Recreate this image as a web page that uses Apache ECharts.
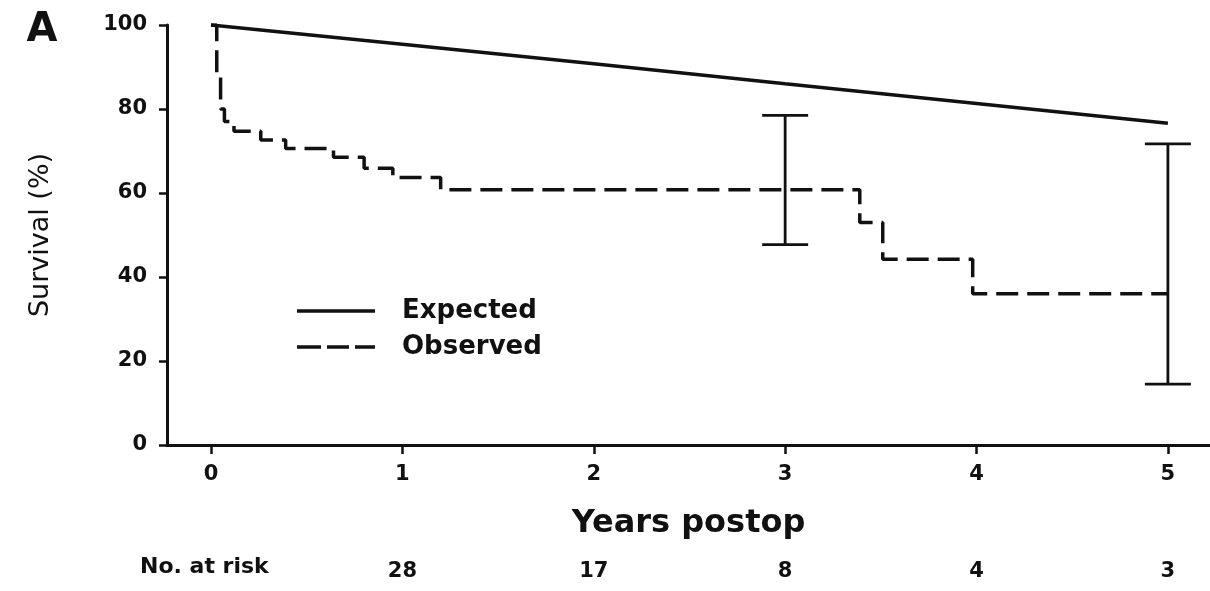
<!DOCTYPE html>
<html>
<head>
<meta charset="utf-8">
<script src="https://cdn.jsdelivr.net/npm/echarts@6/dist/echarts.min.js"></script>
<style>
html,body{margin:0;padding:0;background:#fff;}
#chart{width:1210px;height:591px;}
</style>
</head>
<body>
<div id="chart"></div>
<script>
// ---- data ----
const xTicks = [0, 1, 2, 3, 4, 5];
const yearsAtRisk = [1, 2, 3, 4, 5];
const atRisk = [28, 17, 8, 4, 3];

const expTime = [0, 1, 2, 3, 4, 5];
const expSurv = [100, 95.4, 90.8, 86.0, 81.3, 76.6];

const obsTime = [0, 0.03, 0.05, 0.07, 0.12, 0.26, 0.39, 0.64, 0.80, 0.95, 1.20, 3.39, 3.51, 3.98, 5.00];
const obsSurv = [100, 88, 80, 77, 74.7, 72.6, 70.6, 68.5, 65.9, 63.7, 60.8, 53.0, 44.2, 36.0, 36.0];

const ciTime = [3, 5];
const ciLow = [47.7, 14.5];
const ciHigh = [78.5, 71.7];

// ---- build options ----
const FONT = 'DejaVu Sans';
const INK = '#111';
const zip = (a, b) => a.map((v, i) => [v, b[i]]);
const ciData = ciTime.map((t, i) => [t, ciLow[i], ciHigh[i]]);
const riskMap = {};
yearsAtRisk.forEach((y, i) => { riskMap[y] = atRisk[i]; });

const SOLID_ICON = 'path://M0,0h78v3.5h-78z';
const DASH_ICON = 'path://M0,0h24v3.5h-24zM30,0h22v3.5h-22zM58,0h20v3.5h-20z';

const chart = echarts.init(document.getElementById('chart'));
chart.setOption({
  backgroundColor: '#fff',
  animation: false,
  grid: { left: 167, right: 0, top: 25, bottom: 146, containLabel: false },
  xAxis: [{
    type: 'value', min: -0.23, max: 5.22,
    axisLine: { show: true, onZero: false, lineStyle: { color: INK, width: 3 } },
    axisTick: { show: true, customValues: xTicks, length: 9, lineStyle: { color: INK, width: 2.5 } },
    axisLabel: { customValues: xTicks, margin: 19, color: INK, fontFamily: FONT, fontWeight: 'bold', fontSize: 21 },
    splitLine: { show: false },
    name: 'Years postop', nameLocation: 'middle', nameGap: 63,
    nameTextStyle: { color: INK, fontFamily: FONT, fontWeight: 'bold', fontSize: 32 }
  }, {
    type: 'value', min: -0.23, max: 5.22, position: 'bottom', offset: 108,
    axisLine: { show: false }, axisTick: { show: false }, splitLine: { show: false },
    axisLabel: {
      customValues: yearsAtRisk, margin: 8, color: INK, fontFamily: FONT, fontWeight: 'bold', fontSize: 21,
      formatter: v => String(riskMap[v])
    }
  }],
  yAxis: {
    type: 'value', min: 0, max: 100, interval: 20,
    axisLine: { show: true, onZero: false, lineStyle: { color: INK, width: 3 } },
    axisTick: { show: true, length: 8, lineStyle: { color: INK, width: 2.5 } },
    axisLabel: { margin: 20, color: INK, fontFamily: FONT, fontWeight: 'bold', fontSize: 21 },
    splitLine: { show: false },
    name: 'Survival (%)', nameLocation: 'middle', nameGap: 113, nameRotate: 90,
    nameTextStyle: { color: INK, fontFamily: FONT, fontSize: 27 }
  },
  legend: {
    orient: 'vertical', left: 292, top: 293, itemWidth: 78, itemHeight: 3.5, itemGap: 10,
    data: [{ name: 'Expected', icon: SOLID_ICON }, { name: 'Observed', icon: DASH_ICON }],
    itemStyle: { color: INK, borderWidth: 0 },
    textStyle: { color: INK, fontFamily: FONT, fontWeight: 'bold', fontSize: 26, lineHeight: 26, padding: [0, 0, 0, 22] }
  },
  graphic: [
    { type: 'text', x: 42, y: 31, style: { text: 'A', fill: INK, font: 'bold 40px "DejaVu Sans"', textAlign: 'center', textVerticalAlign: 'middle' } },
    { type: 'text', x: 140, y: 567, style: { text: 'No. at risk', fill: INK, font: 'bold 22px "DejaVu Sans"', textAlign: 'left', textVerticalAlign: 'middle' } }
  ],
  series: [{
    name: 'Observed', type: 'line', step: 'end', data: zip(obsTime, obsSurv), symbol: 'none',
    lineStyle: { color: INK, width: 3.5, type: [22, 9] }, itemStyle: { color: INK }, z: 3
  }, {
    name: 'Expected', type: 'line', data: zip(expTime, expSurv), symbol: 'none',
    lineStyle: { color: INK, width: 3.5 }, itemStyle: { color: INK }, z: 3
  }, {
    name: 'CI', type: 'custom', data: ciData, encode: { x: 0, y: [1, 2] }, z: 4,
    renderItem: function (params, api) {
      const t = api.value(0);
      const pLo = api.coord([t, api.value(1)]);
      const pHi = api.coord([t, api.value(2)]);
      const w = 23;
      const st = { stroke: INK, lineWidth: 2.8 };
      return {
        type: 'group', children: [
          { type: 'line', shape: { x1: pLo[0], y1: pLo[1], x2: pHi[0], y2: pHi[1] }, style: st },
          { type: 'line', shape: { x1: pHi[0] - w, y1: pHi[1], x2: pHi[0] + w, y2: pHi[1] }, style: st },
          { type: 'line', shape: { x1: pLo[0] - w, y1: pLo[1], x2: pLo[0] + w, y2: pLo[1] }, style: st }
        ]
      };
    }
  }]
});
</script>
</body>
</html>
